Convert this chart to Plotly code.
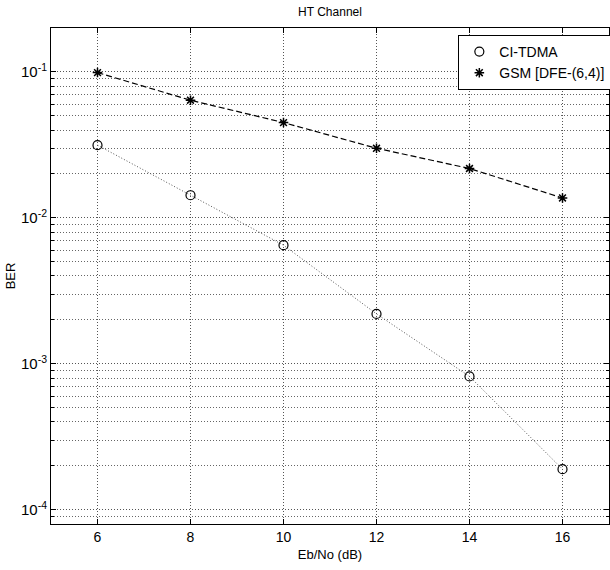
import plotly.graph_objects as go

ebno = [6, 8, 10, 12, 14, 16]
ber_ci_tdma = [0.0315, 0.0143, 0.0065, 0.0022, 0.00082, 0.00019]
ber_gsm = [0.099, 0.064, 0.045, 0.030, 0.0218, 0.0137]
series_names = ["CI-TDMA", "GSM [DFE-(6,4)]"]
y_tick_vals = [1e-4, 1e-3, 1e-2, 1e-1]
y_tick_text = ["10<sup>-4</sup>", "10<sup>-3</sup>", "10<sup>-2</sup>", "10<sup>-1</sup>"]
x_tick_vals = [6, 8, 10, 12, 14, 16]

FONT = "Liberation Sans, Arial, sans-serif"
GRID_DASH = "1px,2px"

fig = go.Figure()
fig.add_trace(go.Scatter(
    x=ebno, y=ber_ci_tdma, mode="lines+markers", showlegend=False,
    line=dict(color="#555555", width=1, dash="1px,2px"),
    marker=dict(symbol="circle-open", size=9, color="black", line=dict(width=1.2)),
))
fig.add_trace(go.Scatter(
    x=ebno, y=ber_gsm, mode="lines+markers", showlegend=False,
    line=dict(color="black", width=1.2, dash="6px,3px"),
    marker=dict(symbol="asterisk-open", size=8, color="black", line=dict(width=1.5)),
))
# legend-only entries (markers only, like the reference legend)
fig.add_trace(go.Scatter(
    x=[None], y=[None], mode="markers", name=series_names[0],
    marker=dict(symbol="circle-open", size=9, color="black", line=dict(width=1.2)),
))
fig.add_trace(go.Scatter(
    x=[None], y=[None], mode="markers", name=series_names[1],
    marker=dict(symbol="asterisk-open", size=8, color="black", line=dict(width=1.5)),
))

fig.update_layout(
    width=610, height=570,
    margin=dict(l=51, r=1, t=28, b=46, autoexpand=False),
    paper_bgcolor="white", plot_bgcolor="white",
    font=dict(family=FONT, size=12, color="black"),
    title=dict(text="HT Channel", x=(51 + 558 / 2) / 610, xanchor="center",
               y=1 - 12 / 570, yanchor="middle", font=dict(size=12, family=FONT)),
    legend=dict(x=0.73, y=0.986, xanchor="left", yanchor="top",
                bordercolor="black", borderwidth=1, bgcolor="white",
                font=dict(size=14, family=FONT), tracegroupgap=0,
                itemwidth=30),
)
fig.update_xaxes(
    range=[5, 17], tickmode="array", tickvals=x_tick_vals,
    ticks="inside", ticklen=5, tickcolor="black", mirror="ticks",
    showline=True, linecolor="black", linewidth=1,
    showgrid=True, gridcolor="#555555", griddash=GRID_DASH, gridwidth=1,
    zeroline=False, tickfont=dict(size=14, family=FONT), automargin=False,
    title=dict(text="Eb/No (dB)", font=dict(size=13, family=FONT), standoff=6),
)
fig.update_yaxes(
    type="log", range=[-4.097, -0.699], tickmode="array",
    tickvals=y_tick_vals, ticktext=y_tick_text,
    ticks="inside", ticklen=5, tickcolor="black", mirror="ticks",
    showline=True, linecolor="black", linewidth=1,
    showgrid=True, gridcolor="#555555", griddash=GRID_DASH, gridwidth=1,
    zeroline=False, tickfont=dict(size=15, family=FONT), automargin=False,
    minor=dict(dtick="D1", ticks="inside", ticklen=3, tickcolor="black",
               showgrid=True, gridcolor="#666666", griddash=GRID_DASH, gridwidth=1),
    title=dict(text="BER", font=dict(size=13, family=FONT), standoff=2),
)

fig.write_html("out.html")
